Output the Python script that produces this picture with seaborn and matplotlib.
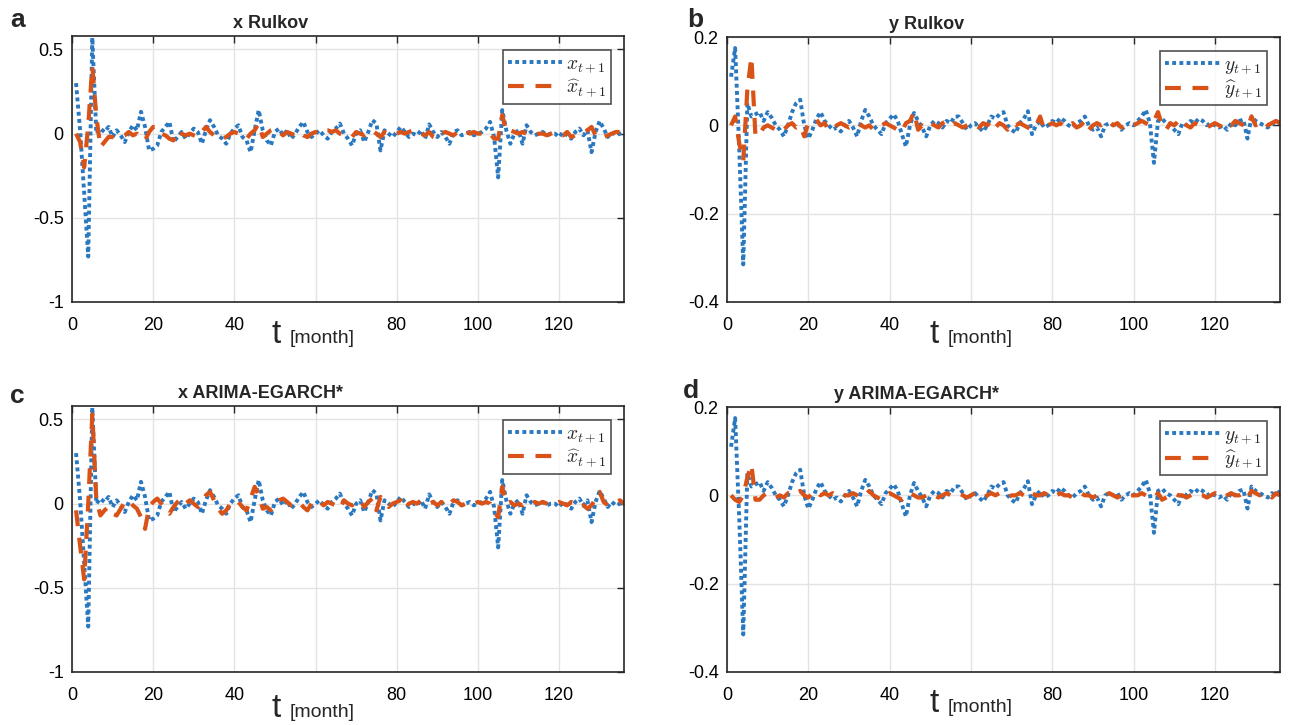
import numpy as np
import pandas as pd
import matplotlib
matplotlib.use("Agg")
import matplotlib.pyplot as plt
import seaborn as sns

# ---------------- data ----------------
x_actual = [0.30, 0.02, -0.35, -0.73, 0.57, 0.00, 0.03, 0.01, 0.04, -0.02,
            0.02, -0.01, -0.05, 0.01, 0.05, 0.02, 0.13, 0.04, -0.10, -0.09,
            -0.07, 0.01, 0.04, 0.07, -0.05, -0.02, 0.01, -0.03, 0.00, 0.03,
            0.01, -0.06, 0.02, 0.08, 0.04, -0.01, -0.03, -0.06, 0.00, 0.03,
            0.05, -0.02, -0.04, -0.11, 0.02, 0.14, 0.02, -0.04, -0.07, 0.01,
            0.03, -0.01, 0.02, -0.03, 0.00, 0.04, 0.07, 0.01, -0.02, 0.00,
            0.02, -0.01, -0.03, 0.01, 0.03, 0.06, 0.00, -0.03, -0.07, 0.00,
            0.02, -0.05, 0.01, 0.08, 0.06, -0.10, 0.02, 0.00, -0.02, 0.01,
            0.04, 0.01, -0.02, 0.00, -0.01, 0.02, -0.03, 0.055, 0.01, -0.02,
            0.01, -0.02, -0.06, 0.01, 0.02, -0.01, 0.00, 0.01, -0.01, 0.00,
            0.01, 0.03, 0.07, -0.02, -0.26, 0.14, 0.02, -0.06, 0.00, 0.02,
            -0.06, 0.05, 0.01, -0.01, 0.00, 0.01, -0.01, 0.00, 0.00, -0.02,
            0.01, -0.01, -0.03, 0.01, 0.03, -0.01, 0.02, -0.11, 0.01, 0.075,
            0.03, -0.02, 0.01, -0.01, 0.00, 0.01]

x_rulkov = [0.00, -0.05, -0.20, 0.05, 0.40, 0.10, -0.08, -0.05, -0.02, -0.02,
            -0.03, -0.02, -0.01, 0.01, -0.01, 0.00, -0.03, -0.04, 0.01, 0.04,
            0.04, 0.00, -0.01, -0.03, -0.04, 0.02, 0.00, -0.01, 0.00, -0.01,
            -0.02, 0.01, 0.04, 0.01, -0.01, -0.03, -0.03, -0.02, 0.00, 0.01,
            0.00, -0.02, -0.03, 0.00, 0.02, 0.06, -0.02, 0.00, 0.02, 0.03,
            0.01, -0.01, 0.01, 0.00, -0.01, 0.01, -0.01, -0.02, 0.00, 0.01,
            0.00, 0.02, 0.02, 0.01, 0.02, 0.00, -0.01, -0.02, -0.02, 0.01,
            0.00, -0.01, 0.01, 0.02, 0.00, -0.02, 0.01, 0.00, -0.01, 0.00,
            0.01, 0.00, 0.01, 0.02, 0.02, 0.00, -0.01, 0.01, -0.02, -0.03,
            0.00, 0.01, 0.00, -0.01, 0.01, 0.01, 0.02, 0.00, 0.01, 0.00,
            0.00, -0.01, 0.00, -0.03, -0.03, 0.11, 0.01, 0.02, 0.01, 0.00,
            0.01, 0.00, 0.00, -0.01, 0.00, 0.00, -0.01, 0.00, 0.01, 0.00,
            -0.01, 0.01, -0.02, -0.01, 0.00, 0.01, 0.02, 0.04, -0.01, 0.00,
            -0.02, -0.01, 0.00, 0.01, 0.01, 0.02]

x_arima = [-0.04, -0.25, -0.45, 0.00, 0.53, 0.02, -0.07, -0.04, -0.02, -0.06,
           -0.07, -0.03, 0.01, 0.02, -0.01, -0.03, -0.08, -0.15, -0.02, 0.01,
           0.03, 0.00, -0.04, -0.06, -0.02, 0.01, 0.03, 0.00, 0.02, 0.00,
           -0.02, 0.01, 0.05, 0.07, 0.02, -0.03, -0.06, -0.04, 0.00, 0.02,
           0.01, -0.02, -0.04, 0.03, 0.10, 0.05, -0.03, -0.02, -0.04, 0.00,
           0.02, 0.03, 0.01, -0.01, 0.00, 0.01, -0.02, -0.04, 0.00, 0.02,
           0.01, -0.01, 0.01, 0.00, -0.01, -0.03, 0.02, 0.00, -0.01, 0.01,
           0.02, -0.02, 0.01, 0.03, -0.04, 0.04, 0.01, -0.02, 0.00, 0.01,
           0.02, -0.03, 0.00, 0.01, 0.00, 0.02, 0.01, 0.00, 0.01, -0.01,
           0.01, -0.02, 0.00, 0.02, 0.01, -0.01, 0.00, 0.01, 0.00, 0.01,
           0.00, 0.01, 0.00, -0.05, -0.08, 0.10, 0.00, 0.01, -0.01, 0.00,
           -0.01, 0.01, 0.00, 0.01, 0.00, 0.01, 0.00, -0.01, 0.00, 0.01,
           0.00, -0.01, 0.01, 0.00, -0.02, -0.01, -0.03, -0.01, 0.03, 0.07,
           0.01, -0.01, 0.00, 0.01, 0.02, 0.00]

y_actual = [0.11, 0.175, -0.05, -0.315, 0.05, 0.02, 0.025, 0.03, 0.01, 0.03,
            0.017, 0.0, -0.01, -0.025, 0.0, 0.03, 0.05, 0.058, 0.0, -0.03,
            -0.01, 0.015, 0.03, 0.01, 0.0, -0.01, -0.005, -0.014, 0.0, 0.01,
            -0.005, -0.025, 0.01, 0.035, 0.02, 0.0, -0.01, -0.02, 0.005, 0.015,
            0.025, 0.01, -0.02, -0.048, 0.0, 0.028, 0.01, -0.005, -0.025, 0.0,
            0.01, 0.005, -0.005, 0.01, 0.005, 0.02, 0.02, 0.005, -0.01, 0.0,
            0.005, -0.005, -0.014, 0.0, 0.02, 0.015, 0.025, 0.03, 0.0, -0.01,
            -0.017, 0.005, 0.015, 0.032, -0.02, 0.0, 0.01, -0.005, 0.0, 0.01,
            0.005, 0.017, 0.01, 0.0, -0.005, 0.005, 0.01, 0.02, 0.0, -0.01,
            -0.005, -0.025, 0.0, 0.005, 0.0, 0.005, -0.01, 0.0, 0.005, 0.0,
            0.01, 0.02, 0.035, 0.005, -0.085, 0.01, 0.015, 0.005, 0.0, -0.01,
            -0.02, 0.005, 0.0, 0.01, 0.005, 0.015, 0.01, 0.0, 0.005, 0.0,
            -0.005, 0.0, -0.01, 0.005, 0.0, 0.01, 0.013, -0.03, 0.02, 0.01,
            0.005, 0.0, -0.005, 0.005, 0.0, 0.01]

y_rulkov = [0.0, 0.02, -0.04, -0.08, 0.08, 0.155, -0.025, -0.02, -0.005, 0.0,
            -0.005, -0.01, -0.005, -0.01, 0.0, 0.005, -0.005, 0.0, -0.025, 0.005,
            0.01, 0.013, 0.0, 0.005, -0.01, -0.01, 0.0, 0.005, 0.0, -0.005,
            0.0, 0.005, 0.0, -0.005, 0.0, -0.01, -0.005, 0.0, 0.005, 0.0,
            -0.005, -0.01, -0.015, 0.005, 0.01, 0.03, -0.01, 0.0, -0.005, 0.005,
            0.0, -0.005, 0.005, 0.01, 0.0, 0.005, 0.0, -0.005, 0.0, 0.005,
            0.0, -0.005, 0.005, 0.0, 0.01, -0.005, 0.005, 0.0, -0.01, 0.005,
            0.0, 0.005, 0.0, -0.005, -0.01, 0.0, 0.02, -0.01, 0.0, 0.005,
            0.0, 0.005, -0.005, 0.0, 0.005, -0.005, 0.0, 0.01, -0.01, 0.0,
            0.005, 0.0, 0.005, 0.01, 0.0, 0.005, -0.005, 0.0, 0.005, 0.0,
            0.005, 0.01, 0.005, 0.0, 0.01, 0.03, 0.0, -0.01, 0.005, 0.0,
            0.01, 0.015, 0.0, -0.005, 0.005, 0.0, 0.0, -0.005, 0.0, 0.005,
            0.0, -0.005, 0.005, 0.0, 0.01, 0.005, 0.0, -0.005, 0.02, 0.0,
            0.005, 0.01, 0.0, 0.005, 0.01, 0.005]

y_arima = [0.0, -0.01, -0.015, 0.0, 0.04, 0.07, -0.01, -0.01, 0.0, 0.005,
           0.0, -0.005, 0.0, -0.005, 0.005, 0.0, 0.005, 0.01, 0.0, -0.005,
           0.005, 0.01, 0.0, 0.005, 0.0, 0.005, 0.0, 0.005, 0.0, 0.0,
           0.005, 0.0, -0.005, 0.0, 0.01, 0.0, -0.005, -0.01, 0.0, 0.005,
           0.0, -0.005, -0.01, 0.0, 0.005, 0.0, -0.005, -0.005, 0.0, 0.005,
           0.0, -0.005, 0.0, 0.005, 0.0, 0.0, 0.005, 0.0, -0.005, 0.0,
           0.005, 0.0, -0.005, 0.0, 0.005, 0.0, 0.005, 0.0, -0.005, 0.0,
           0.0, 0.005, 0.0, -0.005, 0.005, 0.0, 0.0, 0.005, 0.0, -0.005,
           0.0, 0.005, 0.0, 0.0, -0.005, 0.0, 0.005, 0.0, 0.0, -0.005,
           0.0, 0.005, 0.0, 0.005, 0.0, -0.005, 0.0, 0.005, 0.0, 0.0,
           0.0, 0.005, 0.0, -0.005, -0.005, 0.005, -0.01, -0.005, 0.0, 0.005,
           0.0, 0.0, -0.005, 0.0, 0.005, 0.0, 0.0, -0.005, 0.0, 0.005,
           0.0, -0.005, 0.0, 0.005, 0.0, 0.0, 0.005, -0.005, 0.01, 0.005,
           0.0, 0.005, 0.0, -0.005, 0.005, 0.0]

panel_letters = ["a", "b", "c", "d"]
titles = ["x Rulkov", "y Rulkov", "x ARIMA-EGARCH*", "y ARIMA-EGARCH*"]
x_ticks = [0, 20, 40, 60, 80, 100, 120]
x_tick_labels = ["0", "20", "40", "", "80", "100", "120"]
yx_ticks = [-1, -0.5, 0, 0.5]
yx_tick_labels = ["-1", "-0.5", "0", "0.5"]
yy_ticks = [-0.4, -0.2, 0, 0.2]
yy_tick_labels = ["-0.4", "-0.2", "0", "0.2"]

# ---------------- style ----------------
sns.set_style("white")
plt.rcParams["font.family"] = ["Liberation Sans", "DejaVu Sans"]
plt.rcParams["mathtext.fontset"] = "cm"

BLUE = "#2a78bf"
ORANGE = "#D95319"
DARK = "#262626"

W, H = 1290, 725
fig = plt.figure(figsize=(W / 100, H / 100), dpi=100)

# axes positions in pixels: (left, top, right, bottom)
boxes = [(72, 36, 624, 302), (727, 37, 1280, 302),
         (72, 406, 624, 672), (727, 407, 1280, 672)]

panels = [
    ("x", x_actual, x_rulkov, (-1, 0.58), yx_ticks, yx_tick_labels),
    ("y", y_actual, y_rulkov, (-0.4, 0.2), yy_ticks, yy_tick_labels),
    ("x", x_actual, x_arima, (-1, 0.58), yx_ticks, yx_tick_labels),
    ("y", y_actual, y_arima, (-0.4, 0.2), yy_ticks, yy_tick_labels),
]

title_x = [0.36, 0.36, 0.342, 0.342]
xlab_pos = [(0.362, -0.154), (0.367, -0.154), (0.362, -0.17), (0.367, -0.15)]
letter_pos = [(10, 27), (687, 27), (10, 403), (683, 398)]

for i, (var, actual, pred, ylim, yt, ytl) in enumerate(panels):
    l, t, r, b = boxes[i]
    ax = fig.add_axes([l / W, 1 - b / H, (r - l) / W, (b - t) / H])
    df = pd.DataFrame({
        "t": np.arange(1, len(actual) + 1),
        "actual": actual,
    })
    dfp = pd.DataFrame({
        "t": np.arange(1, len(pred) + 1),
        "pred": pred,
    })
    sns.lineplot(data=df, x="t", y="actual", ax=ax, color=BLUE, lw=2.8,
                 linestyle=(0, (1, 0.85)), label=r"$%s_{t+1}$" % var,
                 legend=False)
    sns.lineplot(data=dfp, x="t", y="pred", ax=ax, color=ORANGE, lw=3.0,
                 linestyle=(0, (3.8, 2.8)),
                 label=r"$\widehat{%s}_{t+1}$" % var, legend=False)

    ax.set_xlim(0, 136)
    ax.set_ylim(*ylim)
    ax.set_xticks(x_ticks)
    ax.set_xticklabels(x_tick_labels)
    ax.set_yticks(yt)
    ax.set_yticklabels(ytl)
    ax.set_xlabel("")
    ax.set_ylabel("")
    ax.grid(True, color="#e3e3e3", lw=1.0)
    ax.set_axisbelow(True)
    for s in ax.spines.values():
        s.set_color(DARK)
        s.set_linewidth(1.2)
        s.set_visible(True)
    ax.tick_params(axis="both", which="both", direction="in", length=5,
                   width=1.0, top=True, right=True, colors=DARK,
                   labelcolor="black", labelsize=13)
    ax.tick_params(axis="x", pad=11)
    ax.tick_params(axis="y", pad=6)

    leg = ax.legend(loc="upper right",
                    bbox_to_anchor=(1 - 13 / (r - l), 1 - 14 / (b - t)),
                    borderaxespad=0, frameon=True, fancybox=False,
                    fontsize=14, handlelength=2.8, handletextpad=0.2,
                    borderpad=0.25, labelspacing=0.15)
    leg.get_frame().set_edgecolor(DARK)
    leg.get_frame().set_linewidth(1.2)

    ax.text(title_x[i], 1 + 8 / (b - t), titles[i], transform=ax.transAxes,
            ha="center", va="baseline", fontsize=13, fontweight="bold")

    xl, yl = xlab_pos[i]
    ax.text(xl, yl, "t", transform=ax.transAxes, ha="left", va="baseline",
            fontsize=24)
    ax.text(xl + 18 / (r - l), yl, "[month]", transform=ax.transAxes,
            ha="left", va="baseline", fontsize=14)

    lx, ly = letter_pos[i]
    fig.text(lx / W, 1 - ly / H, panel_letters[i], ha="left", va="baseline",
             fontsize=19, fontweight="bold")

fig.savefig("out.png", dpi=100)
